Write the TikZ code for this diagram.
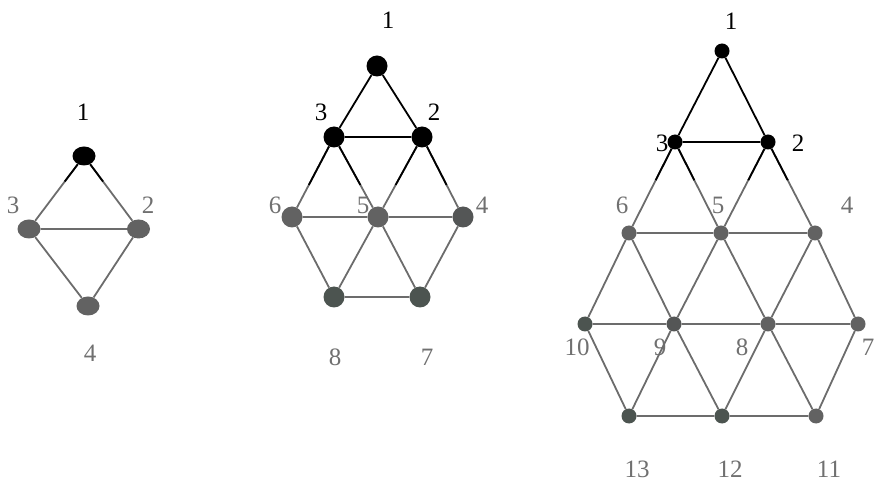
\documentclass[tikz,border=0pt]{standalone}
\usepackage{fontspec}
\setmainfont{Liberation Serif}
\usepackage{xcolor}
\usepackage{tikz}
\usetikzlibrary{shapes.geometric, calc}
\definecolor{dotgray}{RGB}{98, 98, 98}
\definecolor{dotmid}{RGB}{84, 86, 86}
\definecolor{dotdark}{RGB}{76, 84, 80}
\definecolor{linkgray}{RGB}{108, 108, 108}
\definecolor{labelgray}{RGB}{112, 112, 112}

% half black, half gray connector: from node #1 (black) towards node #2, black up to #3
\newcommand{\blackhead}[3]{%
    \draw [link] (#1) -- (#2);
    \draw [toplink] (#1) -- ($(#1)!#3!(#2)$);
}

\begin{document}
\begin{tikzpicture}[
    x=1pt, y=-1pt,
    font=\fontsize{25}{30}\selectfont,
    % Styles
    vdot/.style={circle, fill=#1, inner sep=0pt, minimum size=21pt},
    smalldot/.style={circle, fill=#1, inner sep=0pt, minimum size=15pt},
    oval/.style={ellipse, fill=#1, inner sep=0pt, minimum width=23pt, minimum height=19pt},
    link/.style={draw=linkgray, line width=1.8pt},
    toplink/.style={draw=black, line width=1.8pt},
    lbl/.style={text=labelgray, inner sep=0pt},
    toplbl/.style={text=black, inner sep=0pt}
]
    \useasboundingbox (0,0) rectangle (876,494);

    % Graph 1
    \node (a1) [oval=black] at (84,156) {};
    \node (a3) [oval=dotgray] at (29,229) {};
    \node (a2) [oval=dotgray] at (138.5,229) {};
    \node (a4) [oval=dotgray] at (88,306) {};

    \node (la1) [toplbl] at (83,112) {1};
    \node (la3) [lbl] at (13,205) {3};
    \node (la2) [lbl] at (148,205) {2};
    \node (la4) [lbl] at (90,353) {4};

    \blackhead{a1}{a3}{0.35}
    \blackhead{a1}{a2}{0.35}
    \draw [link] (a3) -- (a2) (a3) -- (a4) (a2) -- (a4);

    % Graph 2
    \node (b1) [vdot=black] at (377,66) {};
    \node (b3) [vdot=black] at (334,137) {};
    \node (b2) [vdot=black] at (422,137) {};
    \node (b6) [vdot=dotgray] at (292,217) {};
    \node (b5) [vdot=dotgray] at (378,217) {};
    \node (b4) [vdot=dotmid] at (463,217) {};
    \node (b8) [vdot=dotdark] at (334,297) {};
    \node (b7) [vdot=dotdark] at (420,297) {};

    \node (lb1) [toplbl] at (388,20) {1};
    \node (lb3) [toplbl] at (321,112) {3};
    \node (lb2) [toplbl] at (434,112) {2};
    \node (lb6) [lbl] at (275,205) {6};
    \node (lb5) [lbl] at (363,205) {5};
    \node (lb4) [lbl] at (482,205) {4};
    \node (lb8) [lbl] at (335,357) {8};
    \node (lb7) [lbl] at (427,357) {7};

    \draw [toplink] (b1) -- (b3) (b1) -- (b2) (b3) -- (b2);
    \blackhead{b3}{b6}{0.6}
    \blackhead{b3}{b5}{0.6}
    \blackhead{b2}{b5}{0.6}
    \blackhead{b2}{b4}{0.6}
    \draw [link] (b6) -- (b5) (b5) -- (b4)
        (b6) -- (b8) (b5) -- (b8) (b5) -- (b7) (b4) -- (b7) (b8) -- (b7);

    % Graph 3
    \node (c1) [smalldot=black] at (722,51) {};
    \node (c3) [smalldot=black] at (675,142) {};
    \node (c2) [smalldot=black] at (768,142) {};
    \node (c6) [smalldot=dotgray] at (629,233) {};
    \node (c5) [smalldot=dotgray] at (721,233) {};
    \node (c4) [smalldot=dotgray] at (815,233) {};
    \node (c10) [smalldot=dotdark] at (585,324) {};
    \node (c9) [smalldot=dotmid] at (674,324) {};
    \node (c8) [smalldot=dotgray] at (768,324) {};
    \node (c7) [smalldot=dotgray] at (858,324) {};
    \node (c13) [smalldot=dotdark] at (629,416) {};
    \node (c12) [smalldot=dotdark] at (722,416) {};
    \node (c11) [smalldot=dotgray] at (816,416) {};

    \node (lc1) [toplbl] at (731,21) {1};
    \node (lc3) [toplbl] at (662,143) {3};
    \node (lc2) [toplbl] at (798,143) {2};
    \node (lc6) [lbl] at (622,205) {6};
    \node (lc5) [lbl] at (718,205) {5};
    \node (lc4) [lbl] at (847,205) {4};
    \node (lc10) [lbl] at (577,347) {10};
    \node (lc9) [lbl] at (660,347) {9};
    \node (lc8) [lbl] at (742,347) {8};
    \node (lc7) [lbl] at (868,347) {7};
    \node (lc13) [lbl] at (637,469) {13};
    \node (lc12) [lbl] at (730,469) {12};
    \node (lc11) [lbl] at (829,469) {11};

    \draw [toplink] (c1) -- (c3) (c1) -- (c2) (c3) -- (c2);
    \blackhead{c3}{c6}{0.42}
    \blackhead{c3}{c5}{0.42}
    \blackhead{c2}{c5}{0.42}
    \blackhead{c2}{c4}{0.42}
    \draw [link] (c6) -- (c5) (c5) -- (c4)
        (c6) -- (c10) (c6) -- (c9) (c5) -- (c9) (c5) -- (c8) (c4) -- (c8) (c4) -- (c7)
        (c10) -- (c9) (c9) -- (c8) (c8) -- (c7)
        (c10) -- (c13) (c9) -- (c13) (c9) -- (c12) (c8) -- (c12) (c8) -- (c11) (c7) -- (c11)
        (c13) -- (c12) (c12) -- (c11);

\end{tikzpicture}
\end{document}
